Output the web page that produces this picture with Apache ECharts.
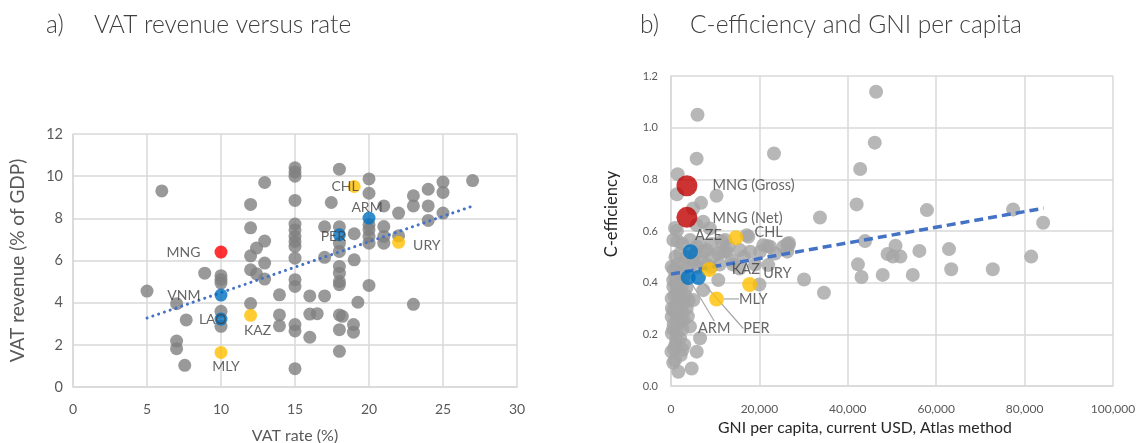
<!DOCTYPE html>
<html>
<head>
<meta charset="utf-8">
<script src="https://cdn.jsdelivr.net/npm/echarts@6/dist/echarts.min.js"></script>
<style>
  html, body { margin: 0; padding: 0; background: #ffffff; }
  #chart { width: 1139px; height: 443px; }
</style>
</head>
<body>
<div id="chart"></div>
<script>
// ---------- Panel a) VAT revenue (% of GDP) against standard VAT rate (%) ----------
const vatOtherPoints = [
  [6, 9.3], [5, 4.55], [7, 3.95], [7.65, 3.18], [7, 2.18], [7, 1.82], [7.55, 1.03], [8.9, 5.4],
  [10, 5.28], [10, 5.1], [10, 4.93], [10, 3.59], [10, 2.88],
  [12, 8.66], [12, 7.55], [12, 6.22], [12, 5.56], [12, 3.96], [12.4, 6.59], [12.95, 6.92],
  [12.95, 9.7], [12.95, 5.88], [12.4, 5.37], [12.95, 5.12],
  [13.95, 4.37], [13.95, 3.42], [13.95, 2.9],
  [15, 10.4], [15, 10.2], [15, 10.0], [15, 8.85], [15, 7.73], [15, 7.45], [15, 7.14], [15, 6.9],
  [15, 6.67], [15, 6.11], [15, 5.09], [15, 4.77], [15, 2.96], [15, 2.66], [15, 0.87],
  [16, 4.32], [16, 3.46], [16.5, 3.48], [16, 2.36],
  [17, 7.6], [17, 6.15], [17, 4.32], [17.45, 8.75],
  [18, 10.33], [18, 7.6], [18, 6.82], [18, 6.43], [18, 5.72], [18, 5.4], [18, 5.0], [18, 4.85],
  [18, 3.42], [18.2, 3.35], [18, 2.72], [18, 1.69],
  [19, 7.27], [19, 6.03], [19.25, 4.02], [18.95, 2.96], [18.95, 2.6],
  [20, 9.87], [20, 9.19], [20, 7.69], [20, 7.46], [20, 7.14], [20, 6.82], [20, 4.82],
  [21, 8.59], [21, 7.61], [21, 7.14], [21, 6.82],
  [22, 8.25], [22, 7.17],
  [23, 9.07], [23, 8.59], [23, 3.92],
  [24, 9.38], [24, 8.59], [24, 7.9],
  [25, 9.72], [25, 9.23], [25, 8.25],
  [27, 9.79]
];
const vatRedNames = ['MNG'];
const vatRedRates = [10];
const vatRedRevenue = [6.4];
const vatBlueNames = ['VNM', 'LAO', 'ARM', 'PER'];
const vatBlueRates = [10, 10, 20, 18];
const vatBlueRevenue = [4.36, 3.22, 8.01, 7.22];
const vatYellowNames = ['KAZ', 'MLY', 'CHL', 'URY'];
const vatYellowRates = [12, 10, 19, 22];
const vatYellowRevenue = [3.4, 1.64, 9.51, 6.86];
const vatTrendRates = [5, 27];
const vatTrendRevenue = [3.27, 8.58];
const vatRateTicks = [0, 5, 10, 15, 20, 25, 30];
const vatRevenueTicks = [0, 2, 4, 6, 8, 10, 12];

// ---------- Panel b) C-efficiency against GNI per capita (current USD, Atlas) ----------
const ceOtherPoints = [
  [6000, 1.05], [5800, 0.88], [23300, 0.90], [1500, 0.82], [1350, 0.742], [10300, 0.736],
  [6800, 0.709], [5000, 0.687], [1350, 0.601], [7300, 0.636], [5800, 0.623], [8800, 0.61], [900, 0.612],
  [21800, 0.542], [26700, 0.554], [26300, 0.55], [26300, 0.52],
  [46400, 1.139], [46100, 0.942], [42800, 0.84], [42000, 0.703], [33700, 0.652], [57900, 0.681],
  [77400, 0.683], [84200, 0.632], [43900, 0.561], [50800, 0.543], [49000, 0.511], [50200, 0.501],
  [51900, 0.501], [56200, 0.523], [62900, 0.53], [81500, 0.501], [42300, 0.471], [43100, 0.422],
  [47900, 0.43], [54700, 0.43], [63400, 0.452], [72800, 0.452], [30100, 0.412], [34600, 0.361],
  [20000, 0.393], [22000, 0.468], [20900, 0.545], [26600, 0.545],
  [520, 0.565], [2040, 0.513], [150, 0.462], [520, 0.384], [150, 0.339], [900, 0.307], [150, 0.268],
  [1660, 0.243], [200, 0.204], [2040, 0.185], [100, 0.133], [900, 0.10], [1660, 0.055], [4680, 0.068],
  [5810, 0.133], [6570, 0.185], [2790, 0.255], [4300, 0.23], [3550, 0.30], [2420, 0.345], [5050, 0.333],
  [7310, 0.371], [10700, 0.41], [2790, 0.423], [8080, 0.526], [10700, 0.513], [12600, 0.52],
  [13740, 0.487], [15620, 0.526], [17500, 0.578], [23540, 0.513], [25420, 0.539], [5050, 0.487],
  [4300, 0.565], [5810, 0.539], [12230, 0.565], [17140, 0.584], [22410, 0.539], [7310, 0.52],
  [11840, 0.52], [20150, 0.52], [17890, 0.52], [600, 0.45], [1000, 0.42], [1500, 0.36], [2500, 0.28],
  [600, 0.24], [3000, 0.16], [1200, 0.18], [2200, 0.12], [3500, 0.38], [9000, 0.46], [11000, 0.47],
  [14000, 0.47], [15500, 0.455], [19000, 0.47], [16500, 0.5], [6000, 0.46], [3000, 0.47], [2500, 0.39],
  [200, 0.30], [700, 0.145], [9500, 0.5], [2000, 0.44],
  [1000, 0.5], [1500, 0.47], [500, 0.41], [1200, 0.39], [2000, 0.37], [800, 0.35], [1800, 0.33],
  [2800, 0.32], [600, 0.29], [1400, 0.28], [2200, 0.26], [500, 0.22], [1300, 0.21], [2600, 0.22],
  [1000, 0.16], [2600, 0.14], [500, 0.09], [3300, 0.35], [4000, 0.33], [3800, 0.27], [4500, 0.47],
  [3500, 0.5], [2600, 0.55], [1600, 0.56], [7000, 0.48], [8000, 0.47], [5500, 0.51], [6500, 0.55],
  [9200, 0.55], [11500, 0.56], [13000, 0.54]
];
const ceRedNames = ['MNG (Gross)', 'MNG (Net)'];
const ceRedGni = [3600, 3600];
const ceRedEff = [0.775, 0.653];
const ceBlueNames = ['AZE', 'ARM', 'PER'];
const ceBlueGni = [4400, 3900, 6200];
const ceBlueEff = [0.52, 0.42, 0.42];
const ceYellowNames = ['CHL', 'KAZ', 'URY', 'MLY'];
const ceYellowGni = [14700, 8650, 17800, 10300];
const ceYellowEff = [0.574, 0.451, 0.393, 0.337];
const ceTrendGni = [0, 84300];
const ceTrendEff = [0.433, 0.688];

// ---------- helpers ----------
const FONT = 'Lato, "Open Sans", sans-serif';
const GRID = '#d9d9d9';
const TEXT = '#404040';
const TICK = '#595959';

function zip(xs, ys) { return xs.map((x, i) => [x, ys[i]]); }
function named(names, xs, ys) { return names.map((n, i) => ({ name: n, value: [xs[i], ys[i]] })); }

// label placement for the highlighted countries in panel a)
const vatLabelStyle = {
  MNG: { position: 'left', distance: 14 },
  VNM: { position: 'left', distance: 14 },
  LAO: { position: 'left', distance: -12 },
  KAZ: { position: 'bottom', distance: 2, offset: [7, 0] },
  MLY: { position: 'bottom', distance: 1, offset: [5, 0] },
  CHL: { position: 'left', distance: -11 },
  ARM: { position: 'top', distance: -3, offset: [-2, 0] },
  PER: { position: 'left', distance: -13, offset: [0, 2] },
  URY: { position: 'right', distance: 8, offset: [0, 3] }
};
// label placement for panel b)
const ceLabelStyle = {
  'MNG (Gross)': { position: 'right', distance: 15 },
  'MNG (Net)': { position: 'right', distance: 15, offset: [0, 1] },
  AZE: { position: 'top', distance: 1 },
  CHL: { position: 'right', distance: 11 },
  KAZ: { position: 'right', distance: 15 },
  URY: { position: 'right', distance: 6 },
  MLY: { position: 'right', distance: 3 },
  ARM: { position: 'bottom', distance: 2 },
  PER: { position: 'bottom', distance: 2 }
};
// shifts applied after layout; the ones with a leader line get it drawn
const ceShift = {
  AZE: { dx: 18, dy: 0 },
  CHL: { dx: 0, dy: -5 },
  URY: { dx: 0, dy: -11 },
  MLY: { dx: 12, dy: 0 },
  ARM: { dx: 26, dy: 34 },
  PER: { dx: 58, dy: 34 }
};
const ceLeaderNames = ['MLY', 'ARM', 'PER'];

function labelled(items, styles, fontSize) {
  return items.map(d => Object.assign({}, d, {
    label: Object.assign({ show: true, formatter: '{b}', color: TEXT, fontSize: fontSize, fontFamily: FONT }, styles[d.name]),
    labelLine: { show: ceLeaderNames.indexOf(d.name) >= 0 && styles === ceLabelStyle }
  }));
}

function gridAxis(gridIndex, min, max, interval, fontSize, formatter, name, nameGap, nameStyle, margin) {
  return {
    gridIndex: gridIndex, type: 'value', min: min, max: max, interval: interval,
    axisLine: { show: true, lineStyle: { color: GRID, width: 1.5 } },
    axisTick: { show: false },
    splitLine: { show: true, lineStyle: { color: GRID, width: 1.5 } },
    axisLabel: { color: TICK, fontSize: fontSize, fontFamily: FONT, formatter: formatter, margin: margin },
    name: name, nameLocation: 'middle', nameGap: nameGap,
    nameTextStyle: Object.assign({ color: TICK, fontFamily: FONT }, nameStyle)
  };
}

const chart = echarts.init(document.getElementById('chart'), null, { renderer: 'canvas' });

const titleStyle = { color: TEXT, fontSize: 24.5, fontWeight: 300, fontFamily: FONT };

chart.setOption({
  animation: false,
  backgroundColor: '#ffffff',
  title: [
    { text: 'a)', left: 46, top: 13, padding: 0, textStyle: titleStyle },
    { text: 'VAT revenue versus rate', left: 94, top: 13, padding: 0, textStyle: titleStyle },
    { text: 'b)', left: 640, top: 13, padding: 0, textStyle: titleStyle },
    { text: 'C-efficiency and GNI per capita', left: 690, top: 13, padding: 0, textStyle: titleStyle }
  ],
  grid: [
    { left: 73, right: 622, top: 134, bottom: 56, outerBoundsMode: 'none' },
    { left: 671, right: 26, top: 76, bottom: 57, outerBoundsMode: 'none' }
  ],
  xAxis: [
    gridAxis(0, vatRateTicks[0], vatRateTicks[vatRateTicks.length - 1], vatRateTicks[1] - vatRateTicks[0], 14,
      v => String(v), 'VAT rate (%)', 41, { fontSize: 16 }, 15),
    gridAxis(1, 0, 100000, 20000, 12,
      v => String(v).replace(/\B(?=(\d{3})+(?!\d))/g, ','), 'GNI per capita, current USD, Atlas method', 33,
      { color: '#262626', fontSize: 15.8, padding: [0, 54, 0, 0] }, 17)
  ],
  yAxis: [
    gridAxis(0, vatRevenueTicks[0], vatRevenueTicks[vatRevenueTicks.length - 1], vatRevenueTicks[1] - vatRevenueTicks[0], 14.5,
      v => String(v), 'VAT revenue (% of GDP)', 46, { fontSize: 19 }, 10),
    gridAxis(1, 0, 1.2, 0.2, 11, v => v.toFixed(1), 'C-efficiency', 51,
      { color: '#262626', fontSize: 16.5, padding: [0, 0, 0, 34] }, 13)
  ],
  series: [
    // panel a)
    {
      type: 'scatter', xAxisIndex: 0, yAxisIndex: 0, symbolSize: 13,
      itemStyle: { color: '#7f7f7f' }, data: vatOtherPoints, z: 2
    },
    {
      type: 'line', xAxisIndex: 0, yAxisIndex: 0, symbol: 'none', z: 3,
      lineStyle: { color: '#4472c4', width: 3, type: [0.1, 6], cap: 'round' },
      data: zip(vatTrendRates, vatTrendRevenue)
    },
    {
      type: 'scatter', xAxisIndex: 0, yAxisIndex: 0, symbolSize: 13, z: 4,
      itemStyle: { color: '#ff0000' },
      data: labelled(named(vatRedNames, vatRedRates, vatRedRevenue), vatLabelStyle, 14)
    },
    {
      type: 'scatter', xAxisIndex: 0, yAxisIndex: 0, symbolSize: 13, z: 4,
      itemStyle: { color: '#0070c0' },
      data: labelled(named(vatBlueNames, vatBlueRates, vatBlueRevenue), vatLabelStyle, 14)
    },
    {
      type: 'scatter', xAxisIndex: 0, yAxisIndex: 0, symbolSize: 13, z: 4,
      itemStyle: { color: '#ffc000' },
      data: labelled(named(vatYellowNames, vatYellowRates, vatYellowRevenue), vatLabelStyle, 14)
    },
    // panel b)
    {
      type: 'scatter', xAxisIndex: 1, yAxisIndex: 1, symbolSize: 14,
      itemStyle: { color: '#a5a5a5' }, data: ceOtherPoints, z: 2
    },
    {
      type: 'line', xAxisIndex: 1, yAxisIndex: 1, symbol: 'none', z: 3,
      lineStyle: { color: '#4472c4', width: 3.5, type: [9, 5] },
      data: zip(ceTrendGni, ceTrendEff)
    },
    {
      type: 'scatter', xAxisIndex: 1, yAxisIndex: 1, symbolSize: 21, z: 4,
      itemStyle: { color: '#c00000' },
      data: labelled(named(ceRedNames, ceRedGni, ceRedEff), ceLabelStyle, 14.5)
    },
    {
      type: 'scatter', xAxisIndex: 1, yAxisIndex: 1, symbolSize: 15, z: 4,
      itemStyle: { color: '#0070c0' },
      labelLine: { lineStyle: { color: '#a6a6a6', width: 1.2 } },
      labelLayout: p => ceShift[ceBlueNames[p.dataIndex]] || {},
      data: labelled(named(ceBlueNames, ceBlueGni, ceBlueEff), ceLabelStyle, 14.5)
    },
    {
      type: 'scatter', xAxisIndex: 1, yAxisIndex: 1, symbolSize: 15, z: 4,
      itemStyle: { color: '#ffc000' },
      labelLine: { lineStyle: { color: '#a6a6a6', width: 1.2 } },
      labelLayout: p => ceShift[ceYellowNames[p.dataIndex]] || {},
      data: labelled(named(ceYellowNames, ceYellowGni, ceYellowEff), ceLabelStyle, 14.5)
    }
  ]
});
</script>
</body>
</html>
